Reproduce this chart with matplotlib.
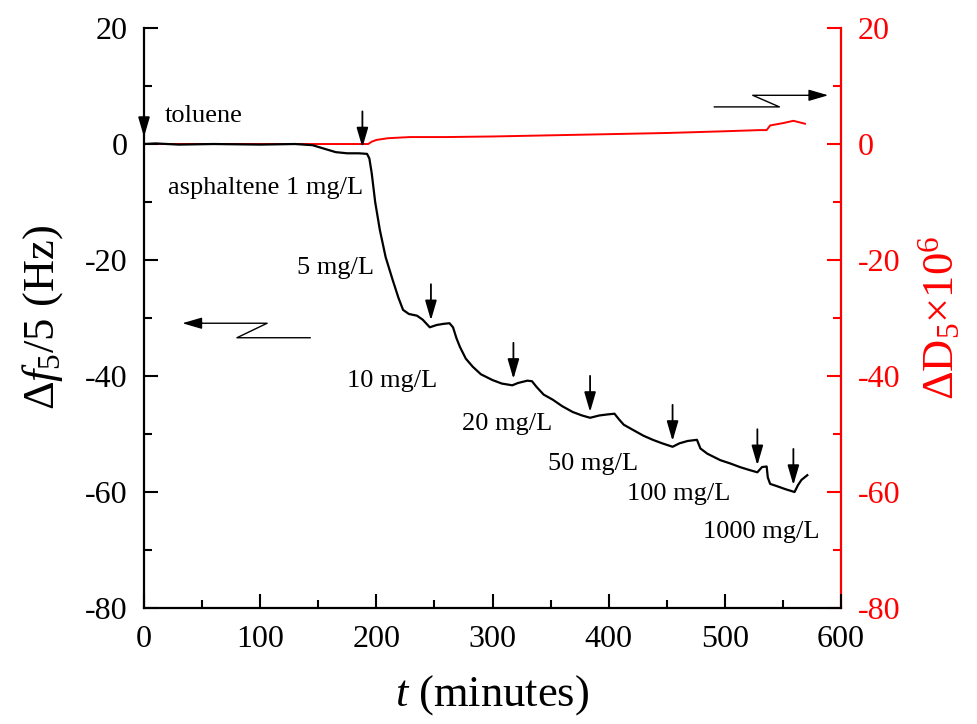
import numpy as np
import matplotlib
matplotlib.use('Agg')
import matplotlib.pyplot as plt
from matplotlib.ticker import MultipleLocator

plt.rcParams['font.family'] = 'Liberation Serif'
plt.rcParams['mathtext.fontset'] = 'custom'
plt.rcParams['mathtext.rm'] = 'Liberation Serif'
plt.rcParams['mathtext.it'] = 'Liberation Serif:italic'
plt.rcParams['axes.unicode_minus'] = False

# frequency shift (black), t in minutes
t_f = [0, 10, 30, 60, 100, 130, 145, 155, 165, 175, 185, 192, 194, 196, 199, 203, 208,
       214, 219, 223, 228, 235, 240, 246, 252, 258, 263, 266, 269, 272, 277, 283, 290,
       300, 308, 317, 322, 330, 334, 338, 344, 352, 360, 369, 377, 384, 392, 400, 405,
       409, 413, 421, 430, 438, 446, 455, 461, 468, 476, 479, 485, 496, 505, 513, 521,
       528, 532, 536, 537, 539, 545, 552, 560, 563, 566, 571]
df5 = [0, 0.1, -0.1, 0, -0.1, 0, -0.2, -0.8, -1.4, -1.6, -1.6, -1.7, -2.5, -5, -10, -14.8, -19.5,
       -23.4, -26.5, -28.6, -29.3, -29.6, -30.3, -31.6, -31.2, -31.0, -30.9, -31.6, -33.5, -35, -37, -38.4, -39.7,
       -40.7, -41.3, -41.6, -41.2, -40.8, -40.9, -41.9, -43.2, -44.1, -45.2, -46.2, -46.8, -47.2, -46.8, -46.6, -46.5,
       -47.5, -48.4, -49.3, -50.3, -51.0, -51.6, -52.2, -51.6, -51.2, -51.0, -52.5, -53.4, -54.5, -55.1, -55.7, -56.2,
       -56.6, -55.7, -55.6, -57.5, -58.6, -59.0, -59.5, -60.0, -58.8, -57.9, -57.1]

# dissipation (red)
t_d = [0, 50, 100, 150, 185, 193, 196, 200, 210, 229, 260, 300, 350, 400, 450, 500, 530,
       536, 539, 550, 559, 563, 569]
dD5 = [0, 0, 0, 0, 0, 0, 0.4, 0.7, 1.0, 1.2, 1.2, 1.3, 1.5, 1.7, 1.9, 2.2, 2.4,
       2.4, 3.2, 3.6, 4.0, 3.8, 3.5]

# injection arrows (time, curve value at tip)
arrow_t = [0, 188, 247, 318, 384, 455, 528, 559]
arrow_y = [1.2, -0.6, -30.4, -40.5, -46.2, -51.2, -55.4, -58.8]

labels = ['toluene', 'asphaltene 1 mg/L', '5 mg/L', '10 mg/L', '20 mg/L',
          '50 mg/L', '100 mg/L', '1000 mg/L']
label_t = [18, 21, 132, 175, 274, 348, 416, 481]
label_y = [4.8, -7.6, -21.4, -40.9, -48.3, -55.2, -60.3, -66.9]

fig = plt.figure(figsize=(9.77, 7.24), dpi=100)
ax = fig.add_axes([0.1474, 0.1602, 0.7134, 0.8011])
ax2 = ax.twinx()

ax.plot(t_f, df5, color='black', lw=1.6, zorder=3)
ax2.plot(t_d, dD5, color='red', lw=1.4)
ax.set_zorder(ax2.get_zorder() + 1)
ax.patch.set_visible(False)

for a in (ax, ax2):
    a.set_xlim(0, 600)
    a.set_ylim(-80, 20)
ax.xaxis.set_major_locator(MultipleLocator(100))
ax.xaxis.set_minor_locator(MultipleLocator(50))
for a in (ax, ax2):
    a.yaxis.set_major_locator(MultipleLocator(20))
    a.yaxis.set_minor_locator(MultipleLocator(10))

ax.spines['top'].set_visible(False)
ax.spines['right'].set_visible(False)
ax.spines['left'].set_linewidth(1.6)
ax.spines['bottom'].set_linewidth(1.6)
ax2.spines['top'].set_visible(False)
ax2.spines['left'].set_visible(False)
ax2.spines['bottom'].set_visible(False)
ax2.spines['right'].set_color('red')
ax2.spines['right'].set_linewidth(1.6)

ax.tick_params(axis='both', which='major', direction='in', length=10, width=1.5, labelsize=23, pad=12)
ax.tick_params(axis='both', which='minor', direction='in', length=5.5, width=1.5)
ax.tick_params(axis='y', which='both', right=False)
ax2.tick_params(axis='y', which='major', direction='in', length=10, width=1.5, colors='red',
                labelsize=23, labelcolor='red', pad=12)
ax2.tick_params(axis='y', which='minor', direction='in', length=5.5, width=1.5, colors='red')

ax.set_xlabel(r'$t$ (minutes)', fontsize=32, labelpad=14)
ax.set_ylabel(r'Δ$f_5$/5 (Hz)', fontsize=32, labelpad=14)
ax2.set_ylabel(r'ΔD$_5$×10$^6$', fontsize=32, color='red', labelpad=12)

for t, y in zip(arrow_t, arrow_y):
    ax.annotate('', xy=(t, y), xytext=(0, 26), textcoords='offset points',
                arrowprops=dict(arrowstyle='-|>,head_length=1.2,head_width=0.35',
                                color='black', lw=1.3, shrinkA=0, shrinkB=0))

for s, t, y in zip(labels, label_t, label_y):
    ax.text(t, y, s, fontsize=19, ha='left', va='center')

# axis indicator zig-zags
ax.plot([143, 80, 106, 40], [-33.4, -33.4, -30.9, -30.9], color='black', lw=1.0)
ax.annotate('', xy=(33, -30.9), xytext=(50, -30.9),
            arrowprops=dict(arrowstyle='-|>,head_length=1.2,head_width=0.35',
                            color='black', lw=1.0, shrinkA=0, shrinkB=0))
ax.plot([491, 547, 524, 580], [6.4, 6.4, 8.4, 8.4], color='black', lw=1.0)
ax.annotate('', xy=(589, 8.4), xytext=(572, 8.4),
            arrowprops=dict(arrowstyle='-|>,head_length=1.2,head_width=0.35',
                            color='black', lw=1.0, shrinkA=0, shrinkB=0))

fig.savefig('out.png', dpi=100)
plt.close(fig)
